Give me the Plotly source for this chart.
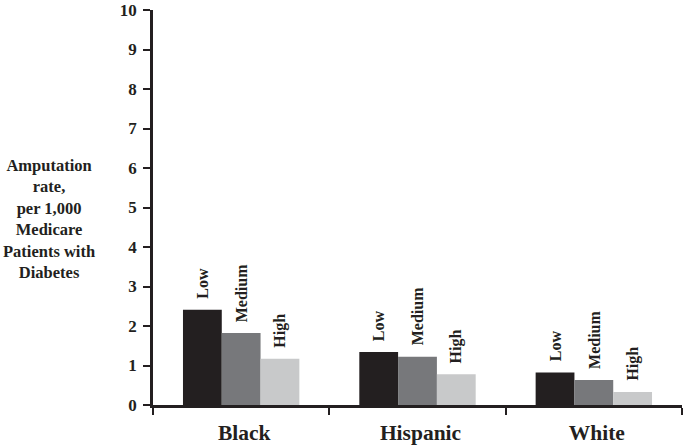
import plotly.graph_objects as go

categories = ["Black", "Hispanic", "White"]
levels = ["Low", "Medium", "High"]
low_values = [2.41, 1.34, 0.82]
medium_values = [1.82, 1.22, 0.63]
high_values = [1.17, 0.78, 0.33]
y_ticks = list(range(0, 11))
y_title_lines = ["Amputation", "rate,", "per 1,000", "Medicare", "Patients with", "Diabetes"]

colors = ["#231f20", "#77787b", "#c8c9ca"]
series = [low_values, medium_values, high_values]
FONT = "Liberation Serif"
BARGAP = 0.34

fig = go.Figure()
for name, vals, col in zip(levels, series, colors):
    fig.add_trace(go.Bar(x=categories, y=vals, name=name, marker=dict(color=col, line=dict(width=0))))

bw = (1 - BARGAP) / 3
for j, (name, vals) in enumerate(zip(levels, series)):
    for i, v in enumerate(vals):
        fig.add_annotation(
            x=i + (j - 1) * bw, y=v, xref="x", yref="y",
            text="<b>%s</b>" % name, textangle=-90, showarrow=False,
            xanchor="center", yanchor="bottom", yshift=9,
            font=dict(family=FONT, size=16, color="#231f20"),
        )

fig.add_annotation(
    x=-0.196, y=0.47, xref="paper", yref="paper",
    text="<b>" + "<br>".join(y_title_lines) + "</b>", showarrow=False,
    xanchor="center", yanchor="middle", align="center",
    font=dict(family=FONT, size=16.5, color="#231f20"),
)

fig.update_layout(
    width=683, height=446,
    margin=dict(l=153, r=1, t=7, b=40),
    barmode="group", bargap=BARGAP, bargroupgap=0,
    showlegend=False,
    plot_bgcolor="white", paper_bgcolor="white",
    font=dict(family=FONT, color="#231f20"),
)
fig.update_yaxes(
    range=[0, 10], tickvals=y_ticks, ticktext=["<b>%d</b>" % t for t in y_ticks],
    showgrid=False, zeroline=False, showline=True, linecolor="#231f20", linewidth=2.5,
    ticks="outside", ticklen=7, tickwidth=2, tickcolor="#231f20",
    tickfont=dict(family=FONT, size=17, color="#231f20"),
    ticklabeloverflow="allow", ticklabelstandoff=3,
)
fig.update_xaxes(
    tickvals=categories, ticktext=["<b>%s</b>" % c for c in categories],
    showgrid=False, showline=True, linecolor="#231f20", linewidth=2.5,
    ticks="outside", tickson="boundaries", ticklen=7, tickwidth=2, tickcolor="#231f20",
    tickfont=dict(family=FONT, size=21.5, color="#231f20"),
    ticklabelstandoff=6, ticklabelshift=3,
)

fig.write_html("out.html", config={"displayModeBar": False},
               post_script="document.body.style.margin='0';document.body.style.padding='0';")
